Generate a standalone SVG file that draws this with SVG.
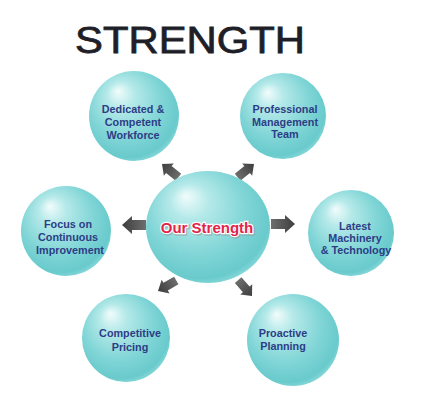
<svg xmlns="http://www.w3.org/2000/svg" width="426" height="403" viewBox="0 0 426 403">
<defs>
<radialGradient id="sph" cx="0.45" cy="0.42" r="0.62" fx="0.32" fy="0.22">
<stop offset="0" stop-color="#f2fcfc"/>
<stop offset="0.25" stop-color="#b5e9e9"/>
<stop offset="0.65" stop-color="#80d5d6"/>
<stop offset="0.9" stop-color="#69cacc"/>
<stop offset="1" stop-color="#8fdcdc"/>
</radialGradient>
<linearGradient id="arr" x1="0" y1="0" x2="1" y2="0">
<stop offset="0" stop-color="#6e6e6e"/>
<stop offset="0.5" stop-color="#555"/>
<stop offset="1" stop-color="#3e3e3e"/>
</linearGradient>
<path id="ar" d="M0,0 L-10,-9 L-10,-5 L-24,-5 L-24,5 L-10,5 L-10,9 Z"/>
</defs>
<style>
.ball{fill:url(#sph)}
.lbl{font-family:"Liberation Sans",Arial,sans-serif;font-weight:bold;font-size:10.8px;fill:#2d3d85;text-anchor:middle}
.a{fill:url(#arr)}
</style>
<rect width="426" height="403" fill="#fff"/>
<text x="75" y="53" textLength="230" lengthAdjust="spacingAndGlyphs" style="font-family:'Liberation Sans',Arial,sans-serif;font-size:37px;fill:#1e1e28;stroke:#1e1e28;stroke-width:0.8px">STRENGTH</text>
<g id="connectors">
<use href="#ar" class="a" transform="translate(122,225) rotate(180)"/>
<use href="#ar" class="a" transform="translate(295,224)"/>
<use href="#ar" class="a" transform="translate(162,164) rotate(219) scale(0.88)"/>
<use href="#ar" class="a" transform="translate(254,164) rotate(-39) scale(0.88)"/>
<use href="#ar" class="a" transform="translate(158,291) rotate(150) scale(0.88)"/>
<use href="#ar" class="a" transform="translate(252,296) rotate(49) scale(0.88)"/>
</g>
<g id="center">
<ellipse class="ball" cx="208" cy="227" rx="62" ry="56"/>
<text x="208" y="234" style="font-family:'Liberation Sans',Arial,sans-serif;font-weight:bold;font-size:15px;fill:#888;stroke:#888;stroke-width:3px;text-anchor:middle;opacity:0.5">Our Strength</text>
<text x="207" y="233" style="font-family:'Liberation Sans',Arial,sans-serif;font-weight:bold;font-size:15px;fill:#e0244c;stroke:#fff;stroke-width:2.5px;paint-order:stroke;text-anchor:middle">Our Strength</text>
</g>
<g id="n-workforce">
<circle class="ball" cx="134" cy="116" r="45"/>
<text class="lbl" x="133" y="113">Dedicated &amp;</text>
<text class="lbl" x="133" y="126">Competent</text>
<text class="lbl" x="133" y="139">Workforce</text>
</g>
<g id="n-management">
<circle class="ball" cx="283" cy="116" r="43"/>
<text class="lbl" x="285" y="113">Professional</text>
<text class="lbl" x="285" y="126">Management</text>
<text class="lbl" x="285" y="138">Team</text>
</g>
<g id="n-improvement">
<circle class="ball" cx="66" cy="231" r="45"/>
<text class="lbl" x="68" y="228">Focus on</text>
<text class="lbl" x="68" y="241">Continuous</text>
<text class="lbl" x="70" y="254">Improvement</text>
</g>
<g id="n-technology">
<circle class="ball" cx="351" cy="233" r="43"/>
<text class="lbl" x="355" y="230">Latest</text>
<text class="lbl" x="355" y="242">Machinery</text>
<text class="lbl" x="356" y="254">&amp; Technology</text>
</g>
<g id="n-pricing">
<circle class="ball" cx="126" cy="338" r="44"/>
<text class="lbl" x="130" y="337">Competitive</text>
<text class="lbl" x="130" y="351">Pricing</text>
</g>
<g id="n-planning">
<circle class="ball" cx="293" cy="340" r="46"/>
<text class="lbl" x="283" y="337">Proactive</text>
<text class="lbl" x="283" y="350">Planning</text>
</g>
</svg>
